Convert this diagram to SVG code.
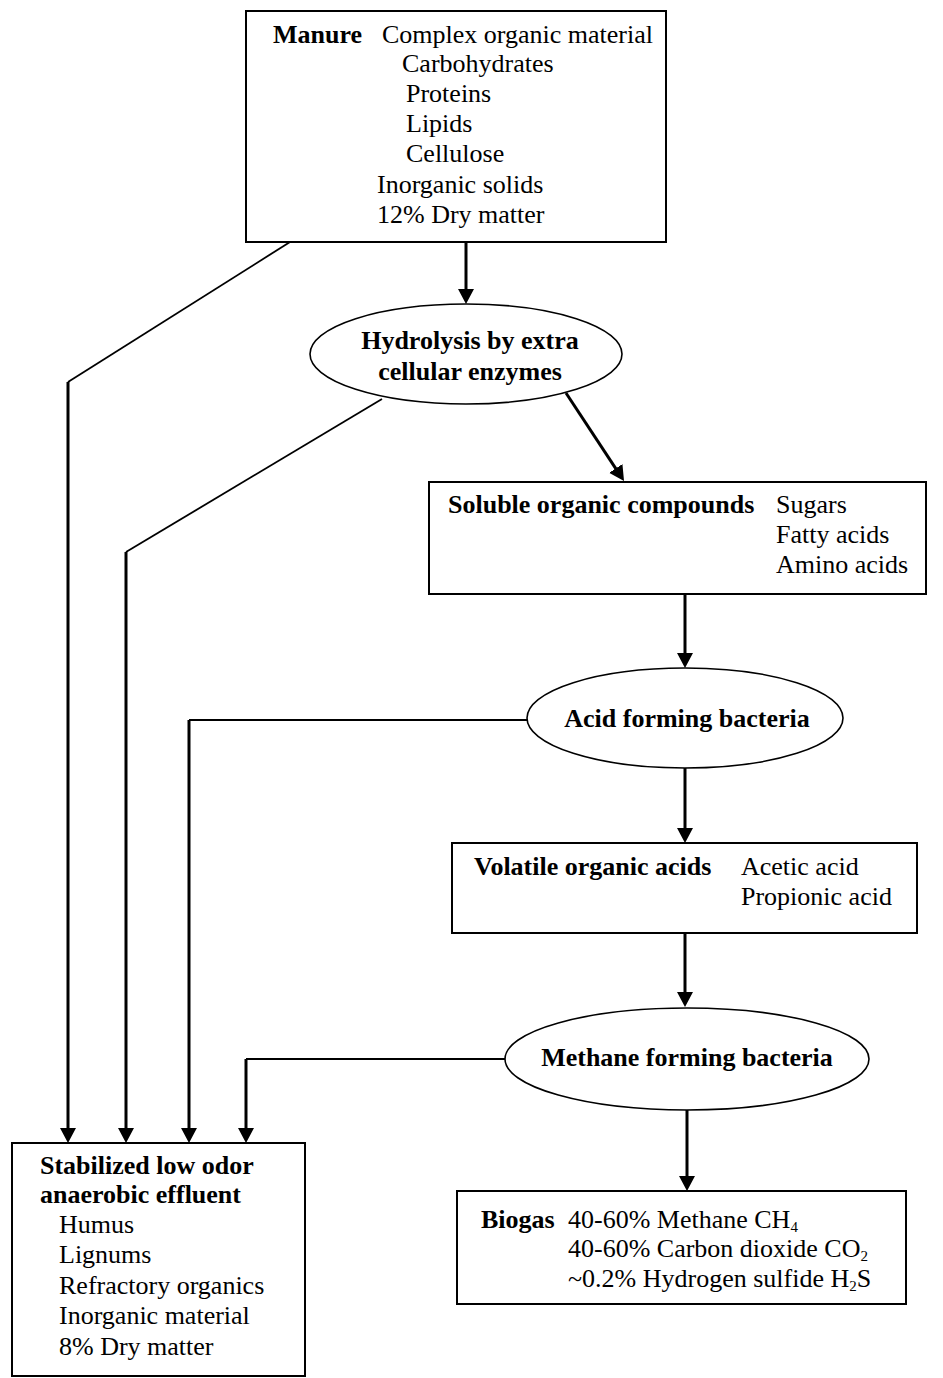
<svg xmlns="http://www.w3.org/2000/svg" width="943" height="1378" viewBox="0 0 943 1378">
<style>
text{font-family:"Liberation Serif","Times New Roman",serif;font-size:26px;fill:#000}
.b{font-weight:bold}
.m{text-anchor:middle}
.box{fill:#fff;stroke:#000;stroke-width:2}
.ell{fill:#fff;stroke:#000;stroke-width:1.6}
.thin{fill:none;stroke:#000;stroke-width:1.8}
.arr{fill:none;stroke:#000;stroke-width:3;marker-end:url(#ah)}
.sub{font-size:15px}
</style>
<defs>
<marker id="ah" markerUnits="userSpaceOnUse" markerWidth="16" markerHeight="16" refX="1" refY="8" orient="auto">
<path d="M0,0 L15,8 L0,16 z" fill="#000"/>
</marker>
</defs>
<rect width="943" height="1378" fill="#fff"/>
<g id="connectors">
<polyline class="thin" points="290,242 68,382"/>
<line class="arr" x1="68" y1="382" x2="68" y2="1129"/>
<polyline class="thin" points="382,399 126,552"/>
<line class="arr" x1="126" y1="552" x2="126" y2="1129"/>
<polyline class="thin" points="527,720 189,720"/>
<line class="arr" x1="189" y1="720" x2="189" y2="1129"/>
<polyline class="thin" points="505,1059 246,1059"/>
<line class="arr" x1="246" y1="1059" x2="246" y2="1129"/>
<line class="arr" x1="466" y1="242" x2="466" y2="290"/>
<line class="arr" x1="566" y1="393" x2="616.3" y2="469.3"/>
<line class="arr" x1="685" y1="594" x2="685" y2="654"/>
<line class="arr" x1="685" y1="768" x2="685" y2="829"/>
<line class="arr" x1="685" y1="933" x2="685" y2="993"/>
<line class="arr" x1="687" y1="1110" x2="687" y2="1177"/>
</g>
<g id="manure">
<rect class="box" x="246" y="11" width="420" height="231"/>
<text class="b" x="273" y="43">Manure</text>
<text x="382" y="43">Complex organic material</text>
<text x="402" y="72">Carbohydrates</text>
<text x="406" y="102">Proteins</text>
<text x="406" y="132">Lipids</text>
<text x="406" y="162">Cellulose</text>
<text x="377" y="193">Inorganic solids</text>
<text x="377" y="223">12% Dry matter</text>
</g>
<g id="hydrolysis">
<ellipse class="ell" cx="466" cy="354" rx="156" ry="50"/>
<text class="b m" x="470" y="349">Hydrolysis by extra</text>
<text class="b m" x="470" y="380">cellular enzymes</text>
</g>
<g id="soluble">
<rect class="box" x="429" y="482" width="497" height="112"/>
<text class="b" x="448" y="513">Soluble organic compounds</text>
<text x="776" y="513">Sugars</text>
<text x="776" y="543">Fatty acids</text>
<text x="776" y="573">Amino acids</text>
</g>
<g id="acid">
<ellipse class="ell" cx="685" cy="718" rx="158" ry="50"/>
<text class="b m" x="687" y="727">Acid forming bacteria</text>
</g>
<g id="volatile">
<rect class="box" x="452" y="843" width="465" height="90"/>
<text class="b" x="474" y="875">Volatile organic acids</text>
<text x="741" y="875">Acetic acid</text>
<text x="741" y="905">Propionic acid</text>
</g>
<g id="methane">
<ellipse class="ell" cx="687" cy="1059" rx="182" ry="51"/>
<text class="b m" x="687" y="1066">Methane forming bacteria</text>
</g>
<g id="biogas">
<rect class="box" x="457" y="1191" width="449" height="113"/>
<text class="b" x="481" y="1228">Biogas</text>
<text x="568" y="1228">40-60% Methane CH<tspan class="sub" dy="4">4</tspan></text>
<text x="568" y="1257">40-60% Carbon dioxide CO<tspan class="sub" dy="4">2</tspan></text>
<text x="568" y="1287">~0.2% Hydrogen sulfide H<tspan class="sub" dy="4">2</tspan><tspan dy="-4">S</tspan></text>
</g>
<g id="effluent">
<rect class="box" x="12" y="1143" width="293" height="233"/>
<text class="b" x="40" y="1174">Stabilized low odor</text>
<text class="b" x="40" y="1203">anaerobic effluent</text>
<text x="59" y="1233">Humus</text>
<text x="59" y="1263">Lignums</text>
<text x="59" y="1294">Refractory organics</text>
<text x="59" y="1324">Inorganic material</text>
<text x="59" y="1355">8% Dry matter</text>
</g>
</svg>
